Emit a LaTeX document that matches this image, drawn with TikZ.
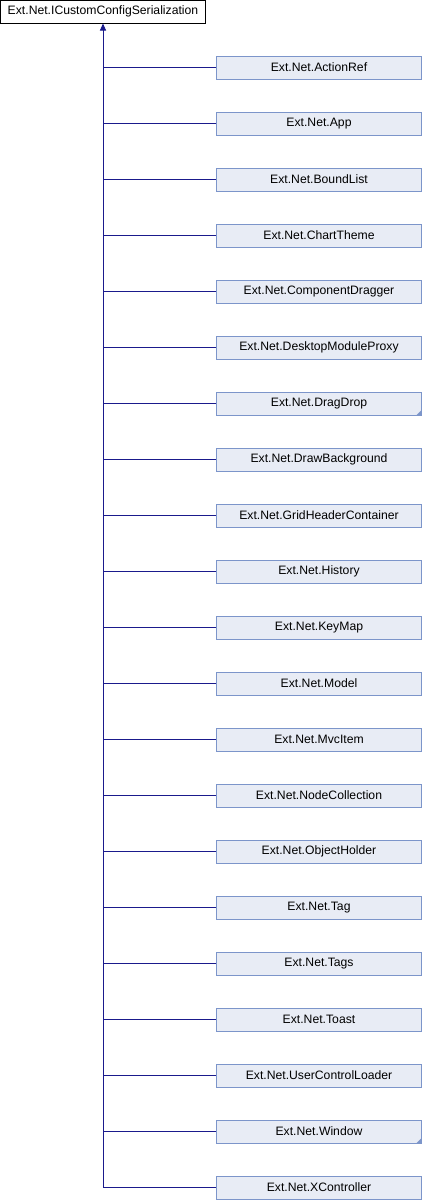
\documentclass[tikz,border=0pt]{standalone}
\usepackage{fontspec}
\setmainfont{Liberation Sans}
\usepackage{tikz}
\usetikzlibrary{positioning,arrows.meta}

\definecolor{boxfill}{HTML}{E8ECF5}
\definecolor{boxline}{HTML}{7C95CA}
\definecolor{edgeblue}{HTML}{1A1A8C}

\tikzset{
  cls/.style={draw=boxline, fill=boxfill, line width=1pt, minimum width=205pt,
    minimum height=23pt, inner sep=0pt, font=\fontsize{12.2}{14}\selectfont},
  base/.style={draw=black, fill=white, line width=1pt, minimum width=205pt,
    minimum height=23pt, inner sep=0pt, font=\fontsize{12.2}{14}\selectfont},
  edge/.style={draw=edgeblue, line width=1pt},
  more/.style={fill=boxline}
}

\begin{document}
\begin{tikzpicture}[x=1pt,y=-1pt,node distance=56pt,on grid]
   \useasboundingbox (0,0) rectangle (422,1200);
   \node[base] (I) at (103,11.5) {Ext.Net.ICustomConfigSerialization};
   \node[cls] (c1) at (319,67.5) {Ext.Net.ActionRef};
   \node[cls] (c2) [below=of c1] {Ext.Net.App};
   \node[cls] (c3) [below=of c2] {Ext.Net.BoundList};
   \node[cls] (c4) [below=of c3] {Ext.Net.ChartTheme};
   \node[cls] (c5) [below=of c4] {Ext.Net.ComponentDragger};
   \node[cls] (c6) [below=of c5] {Ext.Net.DesktopModuleProxy};
   \node[cls] (c7) [below=of c6] {Ext.Net.DragDrop};
   \node[cls] (c8) [below=of c7] {Ext.Net.DrawBackground};
   \node[cls] (c9) [below=of c8] {Ext.Net.GridHeaderContainer};
   \node[cls] (c10) [below=of c9] {Ext.Net.History};
   \node[cls] (c11) [below=of c10] {Ext.Net.KeyMap};
   \node[cls] (c12) [below=of c11] {Ext.Net.Model};
   \node[cls] (c13) [below=of c12] {Ext.Net.MvcItem};
   \node[cls] (c14) [below=of c13] {Ext.Net.NodeCollection};
   \node[cls] (c15) [below=of c14] {Ext.Net.ObjectHolder};
   \node[cls] (c16) [below=of c15] {Ext.Net.Tag};
   \node[cls] (c17) [below=of c16] {Ext.Net.Tags};
   \node[cls] (c18) [below=of c17] {Ext.Net.Toast};
   \node[cls] (c19) [below=of c18] {Ext.Net.UserControlLoader};
   \node[cls] (c20) [below=of c19] {Ext.Net.Window};
   \node[cls] (c21) [below=of c20] {Ext.Net.XController};
   % classes with further subclasses
   \fill[more] ([xshift=-6pt]c7.south east) -- (c7.south east) -- ([yshift=6pt]c7.south east) -- cycle;
   \fill[more] ([xshift=-6pt]c20.south east) -- (c20.south east) -- ([yshift=6pt]c20.south east) -- cycle;
   % inheritance lines
   \draw[edge,{Triangle[length=7pt,width=6pt]}-] (I.south) |- (c21.west);
   \draw[edge] (c1.west) -- (c1.west -| I.south);
   \draw[edge] (c2.west) -- (c2.west -| I.south);
   \draw[edge] (c3.west) -- (c3.west -| I.south);
   \draw[edge] (c4.west) -- (c4.west -| I.south);
   \draw[edge] (c5.west) -- (c5.west -| I.south);
   \draw[edge] (c6.west) -- (c6.west -| I.south);
   \draw[edge] (c7.west) -- (c7.west -| I.south);
   \draw[edge] (c8.west) -- (c8.west -| I.south);
   \draw[edge] (c9.west) -- (c9.west -| I.south);
   \draw[edge] (c10.west) -- (c10.west -| I.south);
   \draw[edge] (c11.west) -- (c11.west -| I.south);
   \draw[edge] (c12.west) -- (c12.west -| I.south);
   \draw[edge] (c13.west) -- (c13.west -| I.south);
   \draw[edge] (c14.west) -- (c14.west -| I.south);
   \draw[edge] (c15.west) -- (c15.west -| I.south);
   \draw[edge] (c16.west) -- (c16.west -| I.south);
   \draw[edge] (c17.west) -- (c17.west -| I.south);
   \draw[edge] (c18.west) -- (c18.west -| I.south);
   \draw[edge] (c19.west) -- (c19.west -| I.south);
   \draw[edge] (c20.west) -- (c20.west -| I.south);
\end{tikzpicture}
\end{document}
